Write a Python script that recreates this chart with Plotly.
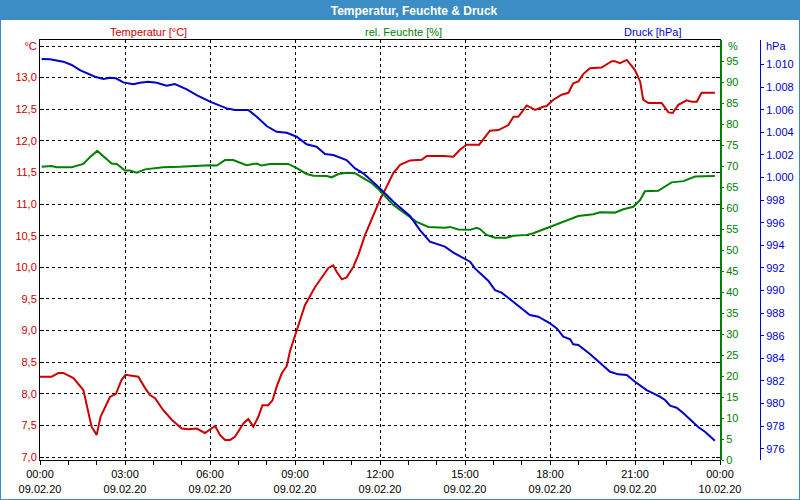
import pandas as pd
import plotly.graph_objects as go

# ---- data (hours after 09.02.20 00:00) ----
temp_hours = [0.0, 0.41, 0.65, 0.82, 1.18, 1.53, 1.82, 2.0, 2.14, 2.47, 2.68, 2.88, 3.02, 3.47, 3.71, 3.88,
              4.06, 4.35, 4.65, 5.0, 5.24, 5.53, 5.82, 6.18, 6.35, 6.53, 6.71, 6.88, 7.18, 7.35, 7.53, 7.71,
              7.85, 8.06, 8.21, 8.35, 8.53, 8.71, 8.82, 9.06, 9.35, 9.71, 10.0, 10.18, 10.35, 10.47, 10.65,
              10.82, 11.06, 11.24, 11.47, 11.65, 11.82, 12.0, 12.24, 12.47, 12.71, 13.06, 13.47, 13.65, 14.24,
              14.59, 14.82, 15.06, 15.5, 15.88, 16.18, 16.53, 16.71, 16.88, 17.18, 17.47, 17.76, 17.88, 18.12,
              18.41, 18.65, 18.82, 19.0, 19.18, 19.41, 19.82, 20.18, 20.29, 20.47, 20.71, 21.0, 21.18, 21.29,
              21.47, 21.94, 22.18, 22.33, 22.53, 22.82, 23.0, 23.18, 23.35, 23.82]
temp_values = [8.27, 8.27, 8.33, 8.33, 8.25, 8.06, 7.48, 7.35, 7.64, 7.95, 8.0, 8.22, 8.30, 8.27, 8.09, 7.98,
               7.93, 7.74, 7.59, 7.45, 7.44, 7.45, 7.38, 7.49, 7.35, 7.27, 7.27, 7.32, 7.53, 7.60, 7.48, 7.64,
               7.82, 7.82, 7.90, 8.11, 8.32, 8.44, 8.67, 9.01, 9.40, 9.69, 9.88, 9.99, 10.03, 9.93, 9.81,
               9.84, 10.01, 10.20, 10.51, 10.70, 10.91, 11.07, 11.28, 11.49, 11.62, 11.69, 11.70, 11.76, 11.76,
               11.75, 11.86, 11.94, 11.94, 12.16, 12.17, 12.25, 12.38, 12.38, 12.56, 12.49, 12.54, 12.55, 12.65,
               12.73, 12.76, 12.91, 12.94, 13.06, 13.15, 13.16, 13.26, 13.26, 13.23, 13.28, 13.12, 12.94, 12.65,
               12.60, 12.60, 12.45, 12.44, 12.57, 12.64, 12.62, 12.62, 12.76, 12.76]

hum_hours = [0.06, 0.41, 0.59, 1.12, 1.53, 1.76, 2.02, 2.29, 2.53, 2.71, 3.0, 3.18, 3.41, 3.71, 3.94, 4.35,
             4.94, 5.53, 6.0, 6.24, 6.53, 6.82, 7.29, 7.65, 7.82, 8.12, 8.59, 8.76, 9.06, 9.41, 9.65, 10.12,
             10.29, 10.53, 10.82, 11.12, 11.41, 11.71, 11.94, 12.0, 12.47, 12.94, 13.29, 13.71, 14.29, 14.47,
             14.76, 15.18, 15.41, 15.53, 15.76, 16.06, 16.47, 16.71, 17.18, 17.41, 17.88, 18.35, 18.71, 19.0,
             19.53, 19.76, 20.29, 20.59, 20.94, 21.18, 21.35, 21.82, 22.29, 22.71, 23.12, 23.82]
hum_values = [69.8, 70.0, 69.7, 69.7, 70.5, 72.1, 73.6, 72.1, 70.6, 70.5, 68.9, 68.9, 68.4, 69.2, 69.4, 69.7,
              69.8, 70.1, 70.2, 70.1, 71.4, 71.4, 70.2, 70.6, 70.1, 70.5, 70.6, 70.5, 69.5, 68.1, 67.7, 67.6,
              67.3, 68.1, 68.4, 68.3, 67.1, 65.9, 64.5, 64.1, 60.7, 58.3, 56.7, 55.5, 55.3, 55.5,
              54.9, 54.8, 55.3, 55.0, 53.6, 52.9, 52.9, 53.4, 53.6, 54.0, 55.2, 56.4, 57.3, 58.1,
              58.5, 59.0, 58.9, 59.7, 60.3, 61.9, 64.0, 64.1, 66.1, 66.4, 67.5, 67.6]

press_hours = [0.06, 0.35, 0.82, 1.12, 1.41, 1.94, 2.24, 2.47, 2.68, 2.94, 3.29, 3.53, 3.82, 4.12, 4.47, 4.76,
               5.18, 5.53, 6.0, 6.59, 6.88, 7.35, 7.65, 8.0, 8.35, 8.71, 9.06, 9.41, 9.76, 10.06, 10.35, 10.82,
               11.12, 11.41, 11.94, 12.47, 13.06, 13.41, 13.76, 14.0, 14.29, 14.59, 14.88, 15.18, 15.35, 15.82,
               16.06, 16.29, 16.59, 17.0, 17.29, 17.59, 18.0, 18.24, 18.47, 18.71, 18.82, 19.0, 19.41, 19.76,
               20.12, 20.41, 20.71, 21.0, 21.41, 21.88, 22.06, 22.24, 22.47, 22.71, 23.06, 23.24, 23.47, 23.82]
press_values = [1010.49, 1010.46, 1010.25, 1009.96, 1009.51, 1008.92, 1008.72, 1008.83, 1008.78, 1008.42,
                1008.25, 1008.39, 1008.48, 1008.39, 1008.12, 1008.27, 1007.81, 1007.30, 1006.71, 1006.12,
                1005.97, 1005.97, 1005.38, 1004.56, 1004.05, 1003.96, 1003.61, 1002.94, 1002.73, 1002.08,
                1001.99, 1001.55, 1000.81, 1000.37, 999.19, 997.86, 996.59, 995.35, 994.32, 994.12, 993.88,
                993.35, 992.94, 992.55, 991.96, 990.87, 990.04, 989.81, 989.22, 988.42, 987.83, 987.68,
                987.10, 986.65, 985.91, 985.68, 985.24, 985.18, 984.38, 983.61, 982.81, 982.58, 982.52,
                981.93, 981.19, 980.60, 980.31, 979.81, 979.63, 979.13, 978.30, 977.89, 977.50, 976.71]

temp_ticks = [7.0, 7.5, 8.0, 8.5, 9.0, 9.5, 10.0, 10.5, 11.0, 11.5, 12.0, 12.5, 13.0, 13.5]
temp_ticktext = ["7,0", "7,5", "8,0", "8,5", "9,0", "9,5", "10,0", "10,5", "11,0", "11,5", "12,0", "12,5",
                 "13,0", "°C"]
hum_ticks = [0, 5, 10, 15, 20, 25, 30, 35, 40, 45, 50, 55, 60, 65, 70, 75, 80, 85, 90, 95]
press_ticks = [976, 978, 980, 982, 984, 986, 988, 990, 992, 994, 996, 998, 1000, 1002, 1004, 1006, 1008, 1010]
press_ticktext = ["976", "978", "980", "982", "984", "986", "988", "990", "992", "994", "996", "998",
                  "1.000", "1.002", "1.004", "1.006", "1.008", "1.010"]

base = pd.Timestamp("2020-02-09 00:00")
def to_time(hours):
    return [base + pd.Timedelta(hours=h) for h in hours]

RED = "#cc0000"
GREEN = "#008000"
BLUE = "#0000cc"
BAR = "#3c8dc5"
FONT = "Liberation Sans"

fig = go.Figure()
fig.add_trace(go.Scatter(x=to_time(temp_hours), y=temp_values, mode="lines",
                         line=dict(color=RED, width=2), yaxis="y", name="Temperatur"))
fig.add_trace(go.Scatter(x=to_time(hum_hours), y=hum_values, mode="lines",
                         line=dict(color=GREEN, width=2), yaxis="y2", name="rel. Feuchte"))
fig.add_trace(go.Scatter(x=to_time(press_hours), y=press_values, mode="lines",
                         line=dict(color=BLUE, width=2), yaxis="y3", name="Druck"))

fig.update_layout(
    width=800, height=500,
    margin=dict(l=40, r=40, t=40, b=40, autoexpand=False),
    paper_bgcolor="white", plot_bgcolor="white",
    showlegend=False,
    font=dict(family=FONT, size=11, color="black"),
    title=dict(text="<b>Temperatur, Feuchte & Druck</b>", x=414 / 800, xref="container", xanchor="center",
               y=1 - 10.5 / 500, yref="container", yanchor="middle",
               font=dict(family=FONT, size=12, color="white")),
    xaxis=dict(domain=[0, 680 / 720], type="date", automargin=False,
               range=[base, base + pd.Timedelta(hours=24)],
               dtick=3 * 3600000, tick0=base, tickformat="%H:%M<br>%d.%m.%y",
               ticks="outside", ticklen=4, tickcolor="black",
               minor=dict(dtick=3600000, ticks="outside", ticklen=4, tickcolor="black", showgrid=False),
               showgrid=True, gridcolor="black", griddash="3px,3px", gridwidth=1,
               showline=True, linecolor="black", linewidth=1, mirror=True,
               tickfont=dict(color="black", size=11), zeroline=False),
    yaxis=dict(range=[6.953, 13.595], tickvals=temp_ticks, ticktext=temp_ticktext, automargin=False,
               tickfont=dict(color=RED, size=11),
               ticks="inside", ticklen=4, tickcolor="black",
               showgrid=True, gridcolor="black", griddash="3px,3px", gridwidth=1,
               showline=True, linecolor="black", linewidth=1, mirror="ticks", zeroline=False),
    yaxis2=dict(range=[0, 100], tickvals=hum_ticks, overlaying="y", side="right", anchor="x",
                automargin=False,
                tickfont=dict(color=GREEN, size=11), ticks="outside", ticklen=2, tickcolor=GREEN,
                showgrid=False, showline=True, linecolor=GREEN, linewidth=2, zeroline=False),
    yaxis3=dict(range=[975, 1012.17], tickvals=press_ticks, ticktext=press_ticktext,
                overlaying="y", side="right", anchor="free", position=1.0, automargin=False,
                tickfont=dict(color=BLUE, size=11), ticks="outside", ticklen=3, tickcolor=BLUE,
                showgrid=False, showline=True, linecolor=BLUE, linewidth=1, zeroline=False),
    shapes=[
        dict(type="rect", xref="paper", yref="paper", x0=-40 / 720, x1=1 + 40 / 720,
             y0=1 + 20 / 420, y1=1 + 40 / 420, fillcolor=BAR, line=dict(width=0), layer="below"),
        dict(type="rect", xref="paper", yref="paper", x0=-40 / 720, x1=1 + 40 / 720,
             y0=-40 / 420, y1=1 + 40 / 420, fillcolor="rgba(0,0,0,0)", line=dict(color=BAR, width=2)),
    ],
    annotations=[
        dict(text="Temperatur [°C]", x=(148 - 40) / 720, y=(460 - 32) / 420, xref="paper", yref="paper",
             showarrow=False, font=dict(color=RED, size=11), xanchor="center", yanchor="middle"),
        dict(text="rel. Feuchte [%]", x=(403 - 40) / 720, y=(460 - 32) / 420, xref="paper", yref="paper",
             showarrow=False, font=dict(color=GREEN, size=11), xanchor="center", yanchor="middle"),
        dict(text="Druck [hPa]", x=(652 - 40) / 720, y=(460 - 32) / 420, xref="paper", yref="paper",
             showarrow=False, font=dict(color=BLUE, size=11), xanchor="center", yanchor="middle"),
        dict(text="%", x=(726 - 40) / 720, y=(460 - 46) / 420, xref="paper", yref="paper",
             showarrow=False, font=dict(color=GREEN, size=11), xanchor="left", yanchor="middle"),
        dict(text="hPa", x=(764 - 40) / 720, y=(460 - 46) / 420, xref="paper", yref="paper",
             showarrow=False, font=dict(color=BLUE, size=11), xanchor="left", yanchor="middle"),
    ],
)

fig.write_html("out.html")
